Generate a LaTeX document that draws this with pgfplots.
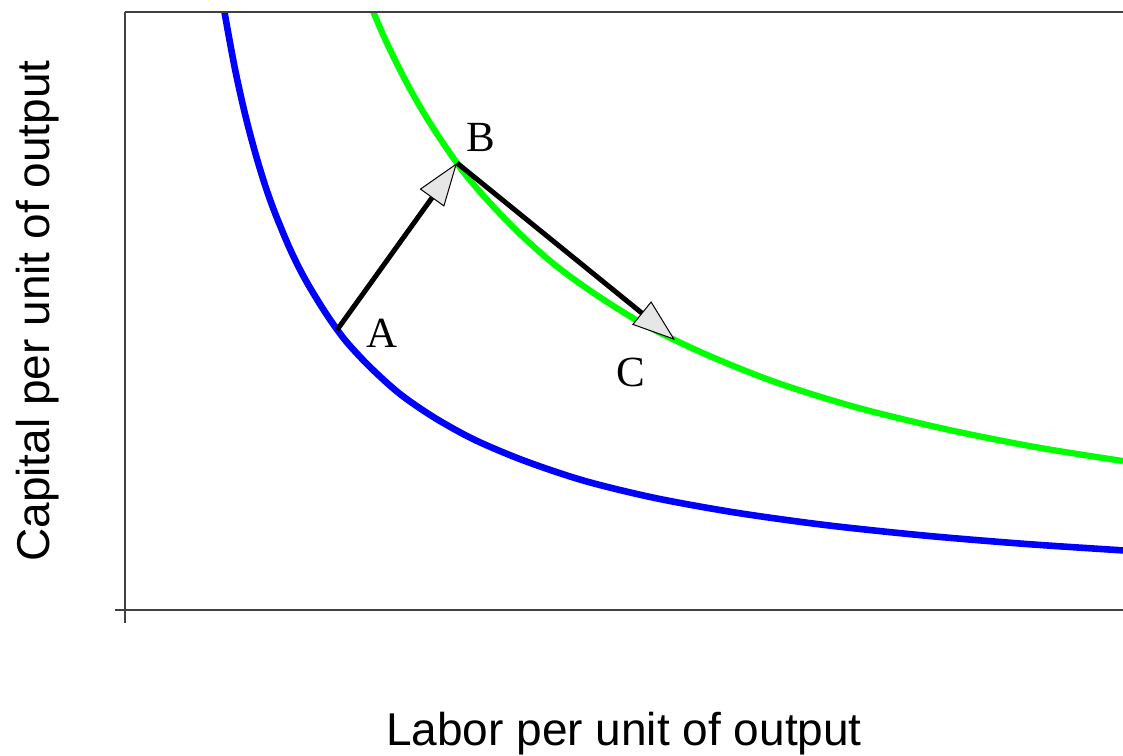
\documentclass[border=0pt]{standalone}
\usepackage{pgfplots}
\pgfplotsset{compat=1.18}
\usepackage{fontspec}
\setmainfont{Liberation Serif}
\newfontfamily\arialfont{Liberation Sans}
\usetikzlibrary{arrows.meta}
\definecolor{isoblue}{RGB}{0,0,255}
\definecolor{isogreen}{RGB}{0,255,0}
\definecolor{headgray}{RGB}{230,230,230}
\definecolor{axgray}{RGB}{64,64,64}
\begin{document}
\begin{tikzpicture}
\useasboundingbox (-62.5pt,-72.5pt) rectangle (499pt,305pt);
\begin{axis}[
  at={(0,0)}, anchor=south west,
  scale only axis, width=499pt, height=299pt,
  xmin=0, xmax=998, ymin=0, ymax=598,
  axis line style={draw=none},
  xtick=\empty, ytick=\empty,
  clip mode=individual,
]
% isoquant 1 (blue)
\addplot[isoblue, line width=3.3pt, smooth] coordinates {
(95,626) (100,595) (110,541) (120,496) (130,458) (140,425) (150,397)
(165,361) (180,331) (200,298) (220,270) (245,243) (275,216) (310,192)
(350,170) (400,149) (460,129) (530,112) (610,97.5) (700,85) (800,74.4)
(900,66.1) (998,59.6)
};
% isoquant 2 (green)
\addplot[isogreen, line width=3.1pt, smooth] coordinates {
(240,618) (250,594) (260,571) (272,546) (285,521) (300,495) (318,467)
(340,436) (365,407) (395,376) (430,345) (470,316) (520,285) (580,256)
(650,228) (730,203) (820,181) (910,163) (998,149)
};
% arrows
\addplot[black, line width=2.5pt, -{Triangle[length=21.5pt,width=15pt,fill=headgray,line width=0.5pt]}] coordinates {(212,280) (332,447)};
\addplot[black, line width=2.5pt, -{Triangle[length=21.5pt,width=15pt,fill=headgray,line width=0.5pt]}] coordinates {(332,447) (550,270)};
% axis lines
\draw[axgray, line width=1pt] (axis cs:0,-13) -- (axis cs:0,598);
\draw[axgray, line width=1pt] (axis cs:-10,0) -- (axis cs:998,0);
\draw[axgray, line width=1.2pt] (axis cs:0,598) -- (axis cs:998,598);
% point labels
\node[anchor=base, inner sep=0pt, font=\fontsize{21.5pt}{24pt}\selectfont] at (axis cs:257,263) {A};
\node[anchor=base, inner sep=0pt, font=\fontsize{21.5pt}{24pt}\selectfont] at (axis cs:356,458) {B};
\node[anchor=base, inner sep=0pt, font=\fontsize{21.5pt}{24pt}\selectfont] at (axis cs:506,224) {C};
% axis titles
\node[anchor=base, inner sep=0pt, font=\arialfont\fontsize{23pt}{26pt}\selectfont] at (axis cs:499,-135) {Labor per unit of output};
\node[anchor=base, rotate=90, inner sep=0pt, font=\arialfont\fontsize{23pt}{26pt}\selectfont] at (axis cs:-75,299) {Capital per unit of output};
\end{axis}
\end{tikzpicture}
\end{document}
